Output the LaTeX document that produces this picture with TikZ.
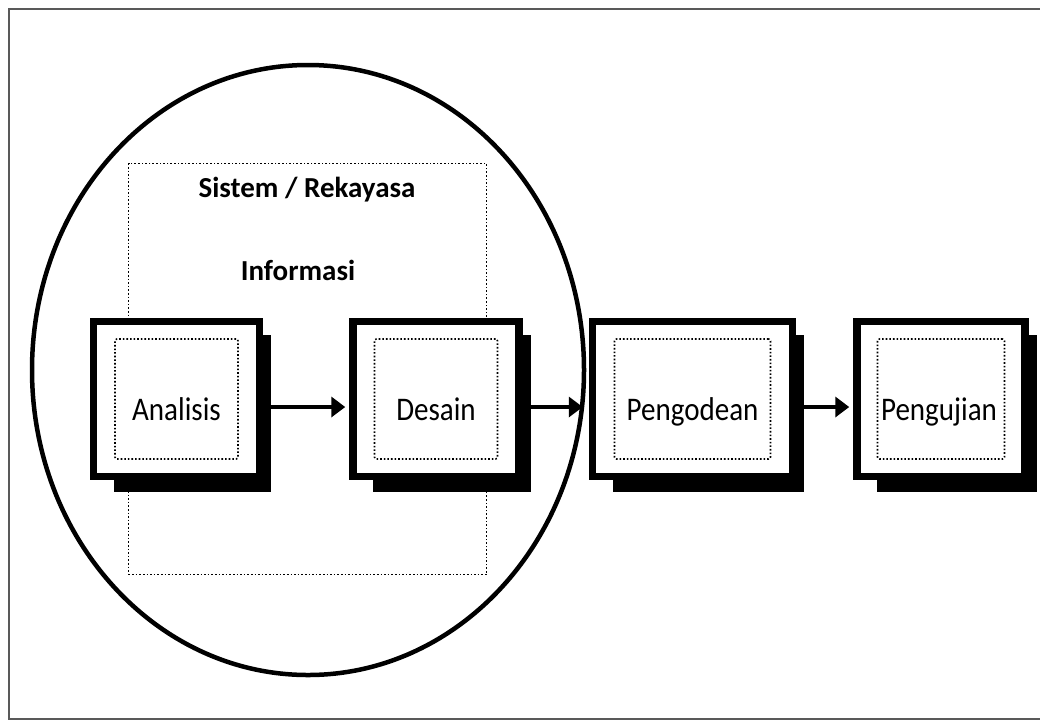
\documentclass[tikz,border=0pt]{standalone}
\usepackage{fontspec}
\usepackage{tikz}
\usetikzlibrary{arrows.meta,positioning,calc,backgrounds}
\setmainfont{Carlito}
\newfontfamily\boxfont[FakeStretch=0.88]{Carlito}
\definecolor{framegray}{gray}{0.35}

\begin{document}
\begin{tikzpicture}[x=1pt,y=-1pt,
   stage/.style={draw,line width=7.5pt,fill=white,minimum width=#1,minimum height=155pt,inner sep=0pt},
   core/.style={draw,dotted,line width=1.6pt,rounded corners=2pt,minimum width=#1,minimum height=120pt},
   lbl/.style={font=\boxfont\fontsize{33}{38}\selectfont,anchor=base},
   ttl/.style={font=\bfseries\fontsize{29}{34}\selectfont,anchor=base},
   arr/.style={line width=4pt,shorten >=4pt,-{Triangle[length=14pt,width=20pt]}}]
  \useasboundingbox (0,0) rectangle (1040,724);
  \node[stage=166pt] (an) at (176.5,399) {};
  \node[stage=166pt,right=86pt of an] (de) {};
  \node[stage=200pt,right=66pt of de] (pe) {};
  \node[stage=168pt,right=57pt of pe] (pg) {};
  \node[core=123pt] (anc) at (an.center) {};
  \node[core=123pt] (dec) at (de.center) {};
  \node[core=156pt] (pec) at (pe.center) {};
  \node[core=127pt] (pgc) at (pg.center) {};
  \node[lbl] (ant) at ($(an.center)+(0,21)$) {Analisis};
  \node[lbl] (det) at ($(de.center)+(0,21)$) {Desain};
  \node[lbl] (pet) at ($(pe.center)+(0,21)$) {Pengodean};
  \node[lbl] (pgt) at ($(pg.center)+(-2,21)$) {Pengujian};
  \node[ttl] (t1) at (307,197) {Sistem / Rekayasa};
  \node[ttl] (t2) at (298,280) {Informasi};
  \begin{scope}[on background layer]
    \draw[framegray,line width=2pt] (9,9) rectangle (1050,719);
    \node[draw,dotted,line width=1.6pt,minimum width=358pt,minimum height=411pt] (sys) at (307.5,369) {};
    \foreach \b in {an,de,pe,pg}
      \fill ($(\b.north west)+(24,17)$) rectangle ($(\b.south east)+(8,12)$);
  \end{scope}
  \draw[line width=4.5pt] (308,370) ellipse [x radius=276, y radius=305];
  \draw[arr] ($(an.east)+(0,8)$) -- ($(de.west)+(0,8)$);
  \draw[arr] ($(de.east)+(0,8)$) -- ($(pe.west)+(-2,8)$);
  \draw[arr] ($(pe.east)+(0,8)$) -- ($(pg.west)+(0,8)$);
\end{tikzpicture}
\end{document}
